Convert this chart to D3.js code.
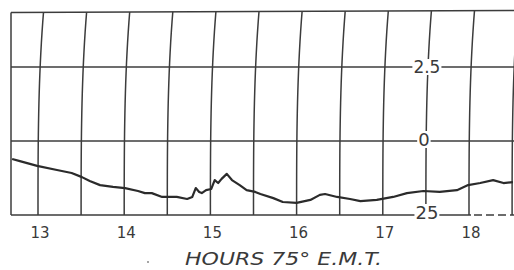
<!DOCTYPE html>
<html>
<head>
<meta charset="utf-8">
<script src="https://cdn.jsdelivr.net/npm/d3@7"></script>
<style>
  body { margin: 0; background: #fff; }
  svg { display: block; }
  .grid { fill: none; stroke: #3c3c3c; stroke-width: 1.5; }
  .trace { fill: none; stroke: #2b2b2b; stroke-width: 2.2; stroke-linejoin: round; }
  text { font-family: "DejaVu Sans", sans-serif; fill: #3a3a3a; }
</style>
</head>
<body>
<svg id="vis" width="514" height="270"></svg>
<script>
// hours (75° E.M.T.) and trace values
const hours = [12.70, 12.79, 12.99, 13.22, 13.39, 13.51, 13.60, 13.72, 13.87, 14.01,
  14.16, 14.24, 14.32, 14.44, 14.51, 14.61, 14.73, 14.79, 14.83, 14.87,
  14.90, 14.95, 15.01, 15.05, 15.09, 15.13, 15.19, 15.25, 15.34, 15.42,
  15.52, 15.58, 15.73, 15.84, 16.00, 16.16, 16.27, 16.33, 16.47, 16.62,
  16.74, 16.93, 17.12, 17.28, 17.47, 17.66, 17.86, 17.99, 18.13, 18.28,
  18.40, 18.51];
const values = [-0.61, -0.68, -0.84, -0.98, -1.08, -1.22, -1.35, -1.49, -1.55, -1.59,
  -1.69, -1.76, -1.76, -1.89, -1.89, -1.89, -1.96, -1.89, -1.59, -1.72,
  -1.76, -1.66, -1.62, -1.32, -1.42, -1.28, -1.11, -1.32, -1.49, -1.66,
  -1.72, -1.79, -1.93, -2.06, -2.09, -1.99, -1.82, -1.79, -1.89, -1.96,
  -2.03, -1.99, -1.89, -1.76, -1.69, -1.72, -1.66, -1.49, -1.42, -1.32,
  -1.42, -1.39];

const hourTicks = [13, 14, 15, 16, 17, 18];
const gridHours = [13, 13.5, 14, 14.5, 15, 15.5, 16, 16.5, 17, 17.5, 18, 18.5];
const gridValues = [2.5, 0, -2.5];
const valueLabels = ["2.5", "0", "25"];
const axisHour = 17.5;
const xTitle = "HOURS 75° E.M.T.";

const svg = d3.select("svg#vis");

const x = d3.scaleLinear().domain([13, 18]).range([38, 469]);
const y = d3.scaleLinear().domain([-2.5, 2.5]).range([215, 67]);

const left = 11, right = 514, bottom = y(-2.5);
// top edge drifts a little upward to the right, like the drawn frame
const topAt = d3.scaleLinear().domain([left, right]).range([12.5, 10.5]);

const g = svg.append("g");

// top frame line
g.append("line").attr("class", "grid")
  .attr("x1", left).attr("x2", right)
  .attr("y1", topAt(left)).attr("y2", topAt(right));

// horizontal value lines
gridValues.forEach(function(v) {
  const ln = g.append("line").attr("class", "grid")
    .attr("x1", left).attr("x2", right)
    .attr("y1", y(v)).attr("y2", y(v));
  if (v === -2.5) ln.attr("stroke-dasharray", "460 3 8 4 8 4 8 4 8 4");
});

// left border
g.append("line").attr("class", "grid")
  .attr("x1", left).attr("x2", left)
  .attr("y1", topAt(left)).attr("y2", bottom);

// hour lines bend to the right near the top
const bend = 5.5;
const lineGen = d3.line().x(d => d[0]).y(d => d[1]);
gridHours.forEach(function(h) {
  const x0 = x(h);
  const yt = topAt(x0 + bend);
  const pts = d3.range(0, 21).map(function(i) {
    const yy = yt + (bottom - yt) * i / 20;
    const t = (bottom - yy) / (bottom - yt);
    return [x0 + bend * Math.pow(t, 3), yy];
  });
  g.append("path").attr("class", "grid").attr("d", lineGen(pts));
});

// the trace
const data = hours.map((h, i) => [h, values[i]]);
g.append("path").attr("class", "trace")
  .attr("d", d3.line().x(d => x(d[0])).y(d => y(d[1]))(data));

// value labels on the 17.5 line, with paper showing behind them
const lab = svg.append("g");
const labelSpec = [
  { v: 2.5, size: 17, dx: 1, dy: 6 },
  { v: 0, size: 18, dx: -2, dy: 5 },
  { v: -2.5, size: 18, dx: 1, dy: 4 }
];
labelSpec.forEach(function(s, i) {
  const t = lab.append("text")
    .attr("x", x(axisHour) + s.dx)
    .attr("y", y(s.v) + s.dy)
    .attr("text-anchor", "middle")
    .style("font-size", s.size + "px")
    .text(valueLabels[i]);
  const b = t.node().getBBox();
  lab.insert("rect", "text")
    .attr("x", b.x - 1).attr("y", b.y + 2)
    .attr("width", b.width + 2).attr("height", b.height - 4)
    .attr("fill", "#fff");
});

// hour tick labels
svg.append("g").selectAll("text")
  .data(hourTicks)
  .enter()
  .append("text")
  .attr("x", d => x(d) + 2)
  .attr("y", 238)
  .attr("text-anchor", "middle")
  .style("font-size", "15px")
  .text(d => d);

// axis title
svg.append("text")
  .attr("x", 185)
  .attr("y", 265)
  .attr("textLength", 197)
  .attr("lengthAdjust", "spacingAndGlyphs")
  .style("font-size", "17px")
  .style("font-style", "italic")
  .text(xTitle);

svg.append("circle")
  .attr("cx", 148).attr("cy", 262).attr("r", 1)
  .attr("fill", "#888");
</script>
</body>
</html>
